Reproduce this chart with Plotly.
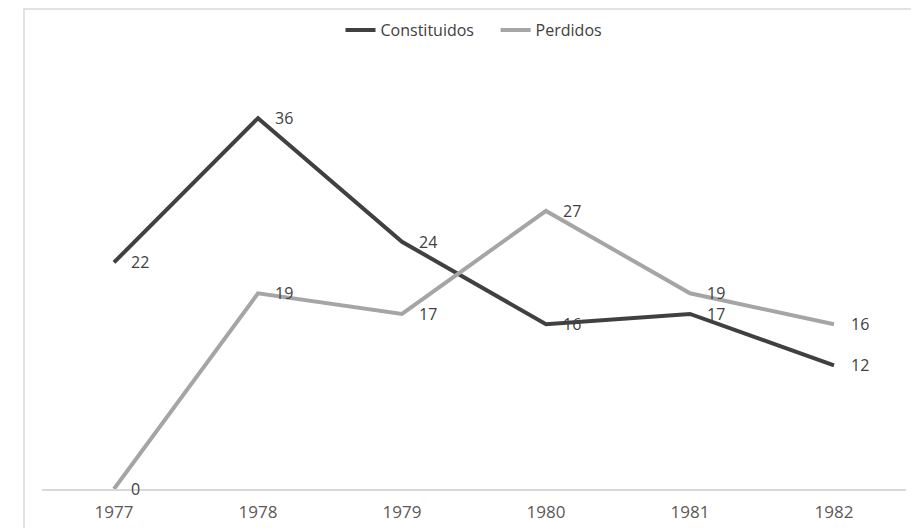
import plotly.graph_objects as go

years = ["1977", "1978", "1979", "1980", "1981", "1982"]
constituidos = [22, 36, 24, 16, 17, 12]
perdidos = [0, 19, 17, 27, 19, 16]

FONT = "Open Sans, Liberation Sans Narrow, sans-serif"

fig = go.Figure()
fig.add_trace(go.Scatter(
    x=years, y=constituidos, name="Constituidos\u00a0\u00a0\u00a0\u00a0", mode="lines",
    line=dict(color="#404040", width=4),
))
fig.add_trace(go.Scatter(
    x=years, y=perdidos, name="Perdidos", mode="lines",
    line=dict(color="#A5A5A5", width=4),
))

annotations = []
for series in (constituidos, perdidos):
    for i, v in enumerate(series):
        annotations.append(dict(
            x=i, y=v, xref="x", yref="y", text=str(v), showarrow=False,
            xanchor="left", yanchor="middle", xshift=16, yshift=0,
            borderpad=0,
            font=dict(family=FONT, size=16, color="#404040"),
        ))

# page is offset by the 8px body margin of the html page
L, T, PW, PH = 34, 69, 864, 412
W, H = 919, 528

fig.update_layout(
    width=W, height=H,
    margin=dict(l=L, r=W - L - PW, t=T, b=H - T - PH),
    paper_bgcolor="white", plot_bgcolor="white",
    font=dict(family=FONT, size=15, color="#595959"),
    showlegend=True,
    legend=dict(orientation="h", x=0.5, xanchor="center", y=1 - 22 / H, yanchor="middle",
                yref="container", font=dict(family=FONT, size=16, color="#404040"),
                itemwidth=30),
    xaxis=dict(type="category", range=[-0.5, 5.5], showgrid=False, zeroline=False,
               showline=True, linecolor="#D9D9D9", linewidth=1.5, ticks="",
               ticklabelstandoff=7,
               tickfont=dict(family=FONT, size=17, color="#595959")),
    yaxis=dict(range=[0, 40], showgrid=False, zeroline=False, showticklabels=False,
               showline=False),
    annotations=annotations,
    shapes=[dict(type="rect", xref="paper", yref="paper",
                 x0=(16 - L) / PW, x1=1.2, y0=-0.3, y1=(T + PH - 1) / PH,
                 line=dict(color="#D9D9D9", width=1.5), fillcolor="rgba(0,0,0,0)",
                 layer="below")],
)

fig.write_html("out.html")
